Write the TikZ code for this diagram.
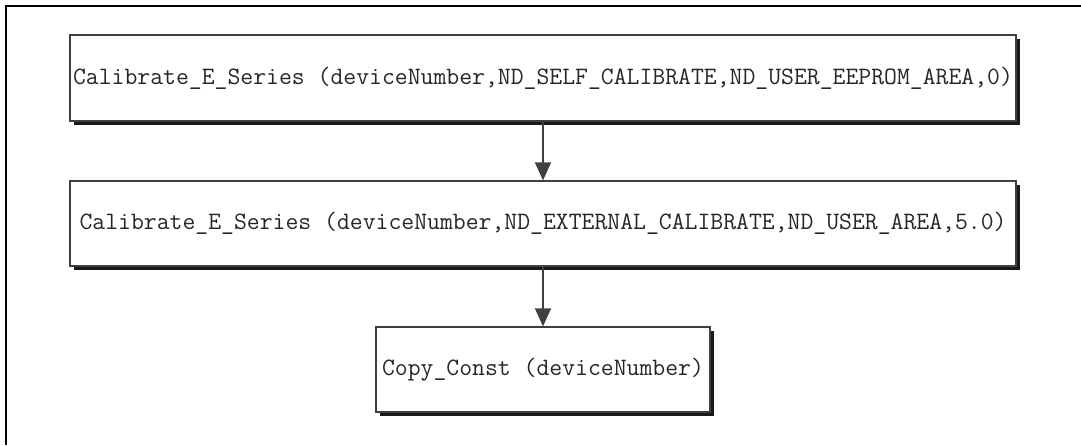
\documentclass[tikz,border=0pt]{standalone}
\usepackage{fontspec}
\usetikzlibrary{arrows.meta, shadows}
\definecolor{textgray}{gray}{0.15}
\definecolor{linegray}{gray}{0.25}
\tikzset{
    callbox/.style = {draw=linegray, line width=0.6pt, fill=white, inner sep=0pt,
        font=\ttfamily\fontsize{12.5}{14}\selectfont, text=textgray,
        drop shadow={shadow xshift=2pt, shadow yshift=-2.2pt, fill=black!90, opacity=1}},
    callarrow/.style = {draw=linegray, line width=0.7pt, -{Triangle[length=9pt, width=8pt]}}
}
\begin{document}
\begin{tikzpicture}[x=0.5pt, y=-0.5pt]
            \useasboundingbox (0,0) rectangle (1081,445);
            % Frame
            \draw[line width=1.1pt] (6,445) -- (6,6) -- (1081,6);

            % Nodes with manual coordinates
            \node[callbox, minimum width=473pt, minimum height=43pt] (selfcal) at (543,78)
                {Calibrate\_E\_Series (deviceNumber,ND\_SELF\_CALIBRATE,ND\_USER\_EEPROM\_AREA,0)};
            \node[callbox, minimum width=473pt, minimum height=42.5pt] (extcal) at (543,223.5)
                {Calibrate\_E\_Series (deviceNumber,ND\_EXTERNAL\_CALIBRATE,ND\_USER\_AREA,5.0)};
            \node[callbox, minimum width=167pt, minimum height=42.5pt] (copy) at (543,369.5)
                {Copy\_Const (deviceNumber)};

            % Edges
            \draw[callarrow] (selfcal) -- (extcal);
            \draw[callarrow] (extcal) -- (copy);
        \end{tikzpicture}
\end{document}
